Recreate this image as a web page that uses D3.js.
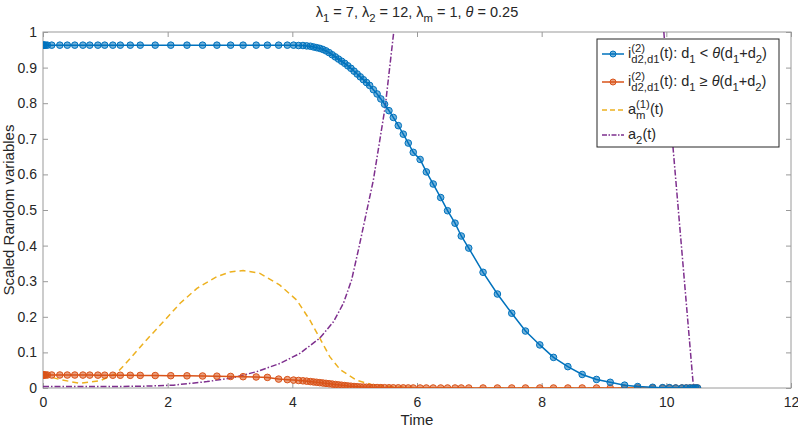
<!DOCTYPE html>
<html>
<head>
<meta charset="utf-8">
<script src="https://cdn.jsdelivr.net/npm/d3@7"></script>
<style>
  body { margin: 0; background: #fff; }
  text { font-family: "Liberation Sans", Arial, sans-serif; fill: #262626; white-space: pre; }
</style>
</head>
<body>
<svg width="798" height="438"></svg>
<script>
// solver output times (shared by both marked series)
const times = [0, 0.01, 0.02, 0.04, 0.07, 0.14, 0.27, 0.39, 0.51, 0.64, 0.75, 0.88, 0.99, 1.12, 1.24,
  1.40, 1.56, 1.80, 2.05, 2.31, 2.56, 2.79, 3.01, 3.21, 3.42, 3.60, 3.78, 3.92, 4.02, 4.10, 4.17,
  4.23, 4.29, 4.34, 4.39, 4.44, 4.49, 4.54, 4.59, 4.64, 4.69, 4.74, 4.79, 4.84, 4.89, 4.94, 4.99,
  5.04, 5.09, 5.14, 5.19, 5.24, 5.30, 5.36, 5.42, 5.48, 5.55, 5.62, 5.70, 5.78, 5.86, 5.94, 6.05,
  6.15, 6.26, 6.38, 6.49, 6.61, 6.71, 6.83, 7.06, 7.29, 7.52, 7.74, 7.97, 8.19, 8.42, 8.65, 8.88,
  9.10, 9.33, 9.54, 9.78, 9.94, 10.05, 10.15, 10.25, 10.32, 10.38, 10.43, 10.47, 10.50];

const iBelow = [0.963, 0.963, 0.963, 0.963, 0.963, 0.963, 0.963, 0.963, 0.963, 0.963, 0.963, 0.963, 0.963, 0.963, 0.963,
  0.963, 0.963, 0.963, 0.963, 0.963, 0.963, 0.963, 0.963, 0.963, 0.963, 0.963, 0.963, 0.963, 0.963, 0.962, 0.962,
  0.961, 0.960, 0.958, 0.956, 0.954, 0.951, 0.947, 0.942, 0.936, 0.930, 0.924, 0.918, 0.912, 0.905, 0.898, 0.890,
  0.882, 0.874, 0.866, 0.858, 0.850, 0.838, 0.826, 0.812, 0.797, 0.779, 0.760, 0.737, 0.713, 0.688, 0.662, 0.642,
  0.607, 0.573, 0.535, 0.498, 0.463, 0.427, 0.393, 0.325, 0.264, 0.210, 0.160, 0.121, 0.086, 0.060, 0.038, 0.024,
  0.016, 0.008, 0.004, 0.002, 0.001, 0.001, 0, 0, 0, 0, 0, 0, 0];

const iAbove = [0.0365, 0.0365, 0.0365, 0.0365, 0.0365, 0.0365, 0.0365, 0.0364, 0.0364, 0.0363, 0.0362, 0.0361, 0.036, 0.0359, 0.0358,
  0.0356, 0.0354, 0.035, 0.0346, 0.0342, 0.0337, 0.0332, 0.0325, 0.0318, 0.031, 0.0298, 0.0250, 0.0235, 0.0222, 0.0212, 0.0202,
  0.0192, 0.0180, 0.0170, 0.0160, 0.0150, 0.0140, 0.0130, 0.0120, 0.0110, 0.0098, 0.0088, 0.0078, 0.0068, 0.0058, 0.0050, 0.0042,
  0.0036, 0.0030, 0.0026, 0.0022, 0.0019, 0.0016, 0.0012, 0.0010, 0.0008, 0.0006, 0.0005, 0.0004, 0.0003, 0.0002, 0.0001, 0,
  0, 0, 0, 0, 0, 0, 0, 0, 0, 0, 0, 0, 0, 0, 0, 0,
  0, 0, 0, 0, 0, 0, 0, 0, 0, 0, 0, 0, 0];

// a_m^(1)(t), dashed
const amTimes = [0, 0.27, 0.59, 0.91, 1.18, 1.40, 1.66, 1.93, 2.20, 2.47, 2.79, 3.0, 3.21, 3.48, 3.80, 4.07,
  4.28, 4.44, 4.60, 4.77, 5.03, 5.30, 5.57, 6.0, 7.0, 8.0, 9.0, 10.0, 10.5];
const amValues = [0.036, 0.024, 0.013, 0.020, 0.041, 0.083, 0.135, 0.186, 0.238, 0.280, 0.313, 0.326, 0.330, 0.322, 0.289, 0.247,
  0.191, 0.140, 0.088, 0.051, 0.022, 0.008, 0.004, 0.001, 0, 0, 0, 0, 0];

// a_2(t), dash-dot (leaves the axes above 1)
const a2Times = [0, 0.5, 1.0, 1.6, 2.09, 2.63, 3.05, 3.43, 3.80, 4.12, 4.44, 4.66, 4.82, 4.95, 5.06, 5.30, 5.49, 5.63,
  5.80, 6.5, 8.0, 9.5, 9.80, 9.96, 10.11, 10.30, 10.43, 10.47];
const a2Values = [0.004, 0.004, 0.004, 0.005, 0.008, 0.018, 0.029, 0.046, 0.069, 0.097, 0.140, 0.186, 0.238, 0.303, 0.388, 0.584, 0.790, 1.005,
  1.25, 2.5, 4.0, 2.0, 1.3, 1.0, 0.67, 0.28, 0.013, 0];

const xTicks = [0, 2, 4, 6, 8, 10, 12];
const yTicks = [0, 0.1, 0.2, 0.3, 0.4, 0.5, 0.6, 0.7, 0.8, 0.9, 1];

const colors = { blue: '#0072BD', orange: '#D95319', yellow: '#EDB120', purple: '#7E2F8E' };

const svg = d3.select('svg');
const margin = { top: 32, right: 7, bottom: 50, left: 43 };
const width = +svg.attr('width');
const height = +svg.attr('height');
const innerWidth = width - margin.left - margin.right;
const innerHeight = height - margin.top - margin.bottom;

const xScale = d3.scaleLinear().domain([0, 12]).range([0, innerWidth]);
const yScale = d3.scaleLinear().domain([0, 1]).range([innerHeight, 0]);

const g = svg.append('g').attr('transform', `translate(${margin.left},${margin.top})`);

svg.append('defs').append('clipPath').attr('id', 'clip')
  .append('rect').attr('width', innerWidth).attr('height', innerHeight);

// one <text> with tspans for sub / sup / stacked sup+sub pieces
function rich(sel, x, y, parts, size) {
  const txt = sel.append('text').attr('x', x).attr('y', y).attr('font-size', size);
  const small = size * 0.78;
  let cur = 0, pendingDx = 0;
  const span = (s, off, fs, italic, dx) => {
    const t = txt.append('tspan').attr('dy', off - cur).attr('font-size', fs).text(s);
    if (italic) t.attr('font-style', 'italic');
    if (dx) t.attr('dx', dx);
    cur = off;
    return t.node().getComputedTextLength();
  };
  parts.forEach(p => {
    if (p.stack) {
      const w1 = span(p.stack[0], -size * 0.42, small, false, pendingDx);
      const w2 = span(p.stack[1], size * 0.36, small, false, -w1);
      pendingDx = Math.max(0, w1 - w2);
    } else if (p.sub) {
      span(p.sub, size * 0.36, small, p.italic, pendingDx); pendingDx = 0;
    } else {
      span(p.t, 0, size, p.italic, pendingDx); pendingDx = 0;
    }
  });
  return txt.node().getComputedTextLength();
}

// axes
const xAxis = d3.axisBottom(xScale).tickValues(xTicks).tickSize(-5).tickPadding(9).tickFormat(d3.format('d'));
const yAxis = d3.axisLeft(yScale).tickValues(yTicks).tickSize(-5).tickPadding(6).tickFormat(d => d === 0 || d === 1 ? d : d3.format('.1f')(d));

const xG = g.append('g').attr('transform', `translate(0,${innerHeight})`).call(xAxis);
const yG = g.append('g').call(yAxis);
[xG, yG].forEach(a => {
  a.attr('font-size', 14).attr('font-family', '"Liberation Sans", Arial, sans-serif');
  a.select('.domain').remove();
  a.selectAll('.tick line').attr('stroke', '#9a9a9a');
  a.selectAll('.tick text').attr('fill', '#262626');
});
// ticks on the top and right edges of the box (no labels)
g.append('g').call(d3.axisTop(xScale).tickValues(xTicks).tickSize(-5))
  .call(a => { a.select('.domain').remove(); a.selectAll('text').remove(); a.selectAll('line').attr('stroke', '#9a9a9a'); });
g.append('g').attr('transform', `translate(${innerWidth},0)`)
  .call(d3.axisRight(yScale).tickValues(yTicks).tickSize(-5))
  .call(a => { a.select('.domain').remove(); a.selectAll('text').remove(); a.selectAll('line').attr('stroke', '#9a9a9a'); });

g.append('rect').attr('width', innerWidth).attr('height', innerHeight)
  .attr('fill', 'none').attr('stroke', '#9a9a9a').attr('stroke-width', 1);

// curves
const plot = g.append('g').attr('clip-path', 'url(#clip)');
const line = d3.line().x(d => xScale(d[0])).y(d => yScale(d[1]));

plot.append('path').datum(d3.zip(amTimes, amValues)).attr('d', line)
  .attr('fill', 'none').attr('stroke', colors.yellow).attr('stroke-width', 1.5).attr('stroke-dasharray', '6,4');

plot.append('path').datum(d3.zip(a2Times, a2Values)).attr('d', line)
  .attr('fill', 'none').attr('stroke', colors.purple).attr('stroke-width', 1.5).attr('stroke-dasharray', '6,2,1.5,2');

[[iAbove, colors.orange], [iBelow, colors.blue]].forEach(([vals, c]) => {
  const pts = d3.zip(times, vals);
  plot.append('path').datum(pts).attr('d', line)
    .attr('fill', 'none').attr('stroke', c).attr('stroke-width', 1.5);
  plot.selectAll(null).data(pts).enter().append('circle')
    .attr('cx', d => xScale(d[0])).attr('cy', d => yScale(d[1])).attr('r', 3.3)
    .attr('fill', c).attr('fill-opacity', 0.55).attr('stroke', c).attr('stroke-width', 1);
});

// labels
const title = svg.append('g');
const tw = rich(title, 0, 0, [
  { t: 'λ' }, { sub: '1' }, { t: ' = 7, λ' }, { sub: '2' }, { t: ' = 12, λ' }, { sub: 'm' },
  { t: ' = 1, ' }, { t: 'θ', italic: true }, { t: ' = 0.25' }], 14.5);
title.attr('transform', `translate(${margin.left + innerWidth / 2 - tw / 2},17)`);

g.append('text').attr('x', innerWidth / 2).attr('y', innerHeight + 37)
  .attr('text-anchor', 'middle').attr('font-size', 15).text('Time');

svg.append('text').attr('transform', `translate(14,${margin.top + innerHeight / 2}) rotate(-90)`)
  .attr('text-anchor', 'middle').attr('font-size', 15).text('Scaled Random variables');

// legend
const lg = svg.append('g').attr('transform', 'translate(597,39)');
lg.append('rect').attr('width', 182).attr('height', 108)
  .attr('fill', '#fff').attr('stroke', '#262626').attr('stroke-width', 1);

const legendItems = [
  { c: colors.blue, marker: true, dash: null, y: 15,
    parts: [{ t: 'i' }, { stack: ['(2)', 'd2,d1'] }, { t: '(t): d' }, { sub: '1' }, { t: ' < ' }, { t: 'θ', italic: true },
      { t: '(d' }, { sub: '1' }, { t: '+d' }, { sub: '2' }, { t: ')' }] },
  { c: colors.orange, marker: true, dash: null, y: 43,
    parts: [{ t: 'i' }, { stack: ['(2)', 'd2,d1'] }, { t: '(t): d' }, { sub: '1' }, { t: ' ≥ ' }, { t: 'θ', italic: true },
      { t: '(d' }, { sub: '1' }, { t: '+d' }, { sub: '2' }, { t: ')' }] },
  { c: colors.yellow, marker: false, dash: '5,3', y: 71,
    parts: [{ t: 'a' }, { stack: ['(1)', 'm'] }, { t: '(t)' }] },
  { c: colors.purple, marker: false, dash: '5,1.5,1.5,1.5', y: 96,
    parts: [{ t: 'a' }, { sub: '2' }, { t: '(t)' }] }
];
legendItems.forEach(it => {
  lg.append('line').attr('x1', 5).attr('x2', 27).attr('y1', it.y).attr('y2', it.y)
    .attr('stroke', it.c).attr('stroke-width', 1.5).attr('stroke-dasharray', it.dash);
  if (it.marker) {
    lg.append('circle').attr('cx', 16).attr('cy', it.y).attr('r', 3)
      .attr('fill', it.c).attr('fill-opacity', 0.55).attr('stroke', it.c);
  }
  rich(lg, 31, it.y + 4, it.parts, 14.5);
});
</script>
</body>
</html>
